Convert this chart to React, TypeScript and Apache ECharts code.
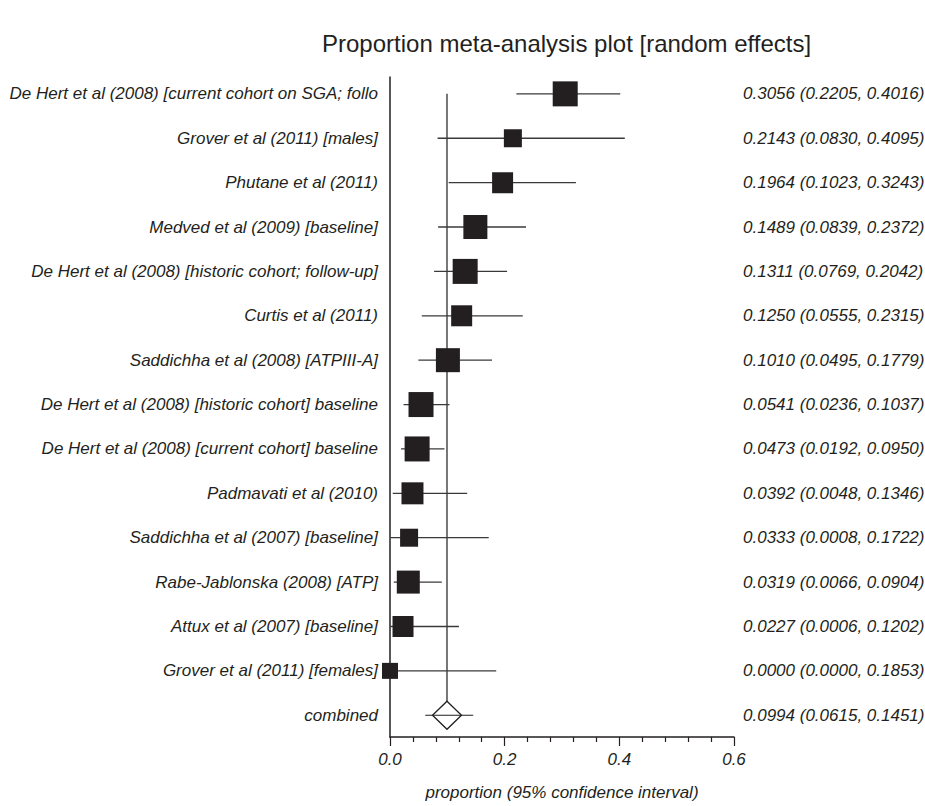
import React, { useEffect, useRef } from "react";
import * as echarts from "echarts";

const labels = [
  "De Hert et al (2008) [current cohort on SGA; follo",
  "Grover et al (2011) [males]",
  "Phutane et al (2011)",
  "Medved et al (2009) [baseline]",
  "De Hert et al (2008) [historic cohort; follow-up]",
  "Curtis et al (2011)",
  "Saddichha et al (2008) [ATPIII-A]",
  "De Hert et al (2008) [historic cohort] baseline",
  "De Hert et al (2008) [current cohort] baseline",
  "Padmavati et al (2010)",
  "Saddichha et al (2007) [baseline]",
  "Rabe-Jablonska (2008) [ATP]",
  "Attux et al (2007) [baseline]",
  "Grover et al (2011) [females]",
];
const est = [0.3056, 0.2143, 0.1964, 0.1489, 0.1311, 0.125, 0.101, 0.0541, 0.0473, 0.0392, 0.0333, 0.0319, 0.0227, 0.0];
const lo = [0.2205, 0.083, 0.1023, 0.0839, 0.0769, 0.0555, 0.0495, 0.0236, 0.0192, 0.0048, 0.0008, 0.0066, 0.0006, 0.0];
const hi = [0.4016, 0.4095, 0.3243, 0.2372, 0.2042, 0.2315, 0.1779, 0.1037, 0.095, 0.1346, 0.1722, 0.0904, 0.1202, 0.1853];
// relative weights, shown as square side (px)
const squareSize = [25, 18, 21, 24, 25, 21, 24, 25, 25, 22, 18, 23, 21, 16];

const combinedLabel = "combined";
const combinedEst = 0.0994;
const combinedLo = 0.0615;
const combinedHi = 0.1451;

const xTickMajor = 0.2;
const xMinorSplit = 5; // minor ticks every 0.04

const INK = "#231f20";
const FONT = '"Liberation Sans", Arial, Helvetica, sans-serif';
const ciText = (e: number, l: number, h: number) =>
  `${e.toFixed(4)} (${l.toFixed(4)}, ${h.toFixed(4)})`;

export default function App() {
  const ref = useRef<HTMLDivElement>(null);
  useEffect(() => {
    if (!ref.current) return;
    const chart = echarts.init(ref.current, undefined, { renderer: "svg" });
    const nRows = labels.length + 1;
    const studyData = labels.map((_, i) => [i, est[i], lo[i], hi[i], squareSize[i]]);
    const combinedRow = labels.length;
    const labelFont = `italic 17px ${FONT}`;

    const leftText = (row: number, text: string, api: any) => {
      const p = api.coord([0, row]);
      return {
        type: "text",
        x: p[0] - 12,
        y: p[1],
        style: { text, align: "right", verticalAlign: "middle", font: labelFont, fill: INK },
      };
    };
    const rightText = (row: number, text: string, api: any) => {
      const p = api.coord([0.6, row]);
      return {
        type: "text",
        x: p[0] + 9,
        y: p[1],
        style: { text, align: "left", verticalAlign: "middle", font: labelFont, fill: INK },
      };
    };

    const option: any = {
      animation: false,
      backgroundColor: "#ffffff",
      title: {
        text: "Proportion meta-analysis plot [random effects]",
        left: 317,
        top: 26,
        textStyle: { fontSize: 24, fontWeight: "normal", fontFamily: FONT, color: INK },
      },
      grid: { left: 390, right: 191, top: 77, bottom: 62, containLabel: false },
      xAxis: {
        type: "value",
        min: 0,
        max: 0.6,
        interval: xTickMajor,
        position: "bottom",
        axisLine: { show: true, onZero: false, lineStyle: { color: INK, width: 1.5 } },
        axisTick: { show: true, length: 9, lineStyle: { color: INK, width: 1.2 } },
        minorTick: { show: true, splitNumber: xMinorSplit, length: 5, lineStyle: { color: INK, width: 1.2 } },
        axisLabel: {
          show: true,
          margin: 14,
          fontSize: 17,
          fontStyle: "italic",
          fontFamily: FONT,
          color: INK,
          formatter: (v: number) => v.toFixed(1),
        },
        splitLine: { show: false },
        minorSplitLine: { show: false },
        name: "proportion (95% confidence interval)",
        nameLocation: "middle",
        nameGap: 47,
        nameTextStyle: { fontSize: 17, fontStyle: "italic", fontFamily: FONT, color: INK },
      },
      yAxis: {
        type: "value",
        inverse: true,
        min: -0.38,
        max: nRows - 1 + 0.49,
        axisLine: { show: true, onZero: false, lineStyle: { color: INK, width: 1.5 } },
        axisTick: { show: false },
        axisLabel: { show: false },
        splitLine: { show: false },
      },
      series: [
        {
          type: "custom",
          silent: true,
          data: [[combinedEst, 0, combinedRow]],
          renderItem: (params: any, api: any) => {
            const top = api.coord([api.value(0), api.value(1)]);
            const bot = api.coord([api.value(0), api.value(2)]);
            return {
              type: "line",
              shape: { x1: top[0], y1: top[1], x2: bot[0], y2: bot[1] - 14 },
              style: { stroke: "#555555", lineWidth: 1.6 },
            };
          },
        },
        {
          type: "custom",
          silent: true,
          data: studyData,
          renderItem: (params: any, api: any) => {
            const i = params.dataIndex;
            const row = api.value(0);
            const c = api.coord([api.value(1), row]);
            const l = api.coord([api.value(2), row]);
            const h = api.coord([api.value(3), row]);
            const s = api.value(4);
            return {
              type: "group",
              children: [
                {
                  type: "line",
                  shape: { x1: l[0], y1: l[1], x2: h[0], y2: h[1] },
                  style: { stroke: "#3a3a3a", lineWidth: 1.3 },
                },
                {
                  type: "rect",
                  shape: { x: c[0] - s / 2, y: c[1] - s / 2, width: s, height: s },
                  style: { fill: INK },
                },
                leftText(row, labels[i], api),
                rightText(row, ciText(est[i], lo[i], hi[i]), api),
              ],
            };
          },
        },
        {
          type: "custom",
          silent: true,
          data: [[combinedRow, combinedEst, combinedLo, combinedHi]],
          renderItem: (params: any, api: any) => {
            const row = api.value(0);
            const c = api.coord([api.value(1), row]);
            const l = api.coord([api.value(2), row]);
            const h = api.coord([api.value(3), row]);
            const hw = 14.5;
            const hh = 14;
            return {
              type: "group",
              children: [
                {
                  type: "polygon",
                  shape: {
                    points: [
                      [c[0], c[1] - hh],
                      [c[0] + hw, c[1]],
                      [c[0], c[1] + hh],
                      [c[0] - hw, c[1]],
                    ],
                  },
                  style: { fill: "#ffffff", stroke: INK, lineWidth: 1.3 },
                },
                {
                  type: "line",
                  shape: { x1: l[0], y1: l[1], x2: h[0], y2: h[1] },
                  style: { stroke: INK, lineWidth: 1.2 },
                },
                leftText(row, combinedLabel, api),
                rightText(row, ciText(combinedEst, combinedLo, combinedHi), api),
              ],
            };
          },
        },
      ],
    };
    chart.setOption(option);
    return () => chart.dispose();
  }, []);
  return (
    <div
      ref={ref}
      style={{ position: "fixed", left: 0, top: 0, width: 925, height: 806, background: "#fff" }}
    />
  );
}
